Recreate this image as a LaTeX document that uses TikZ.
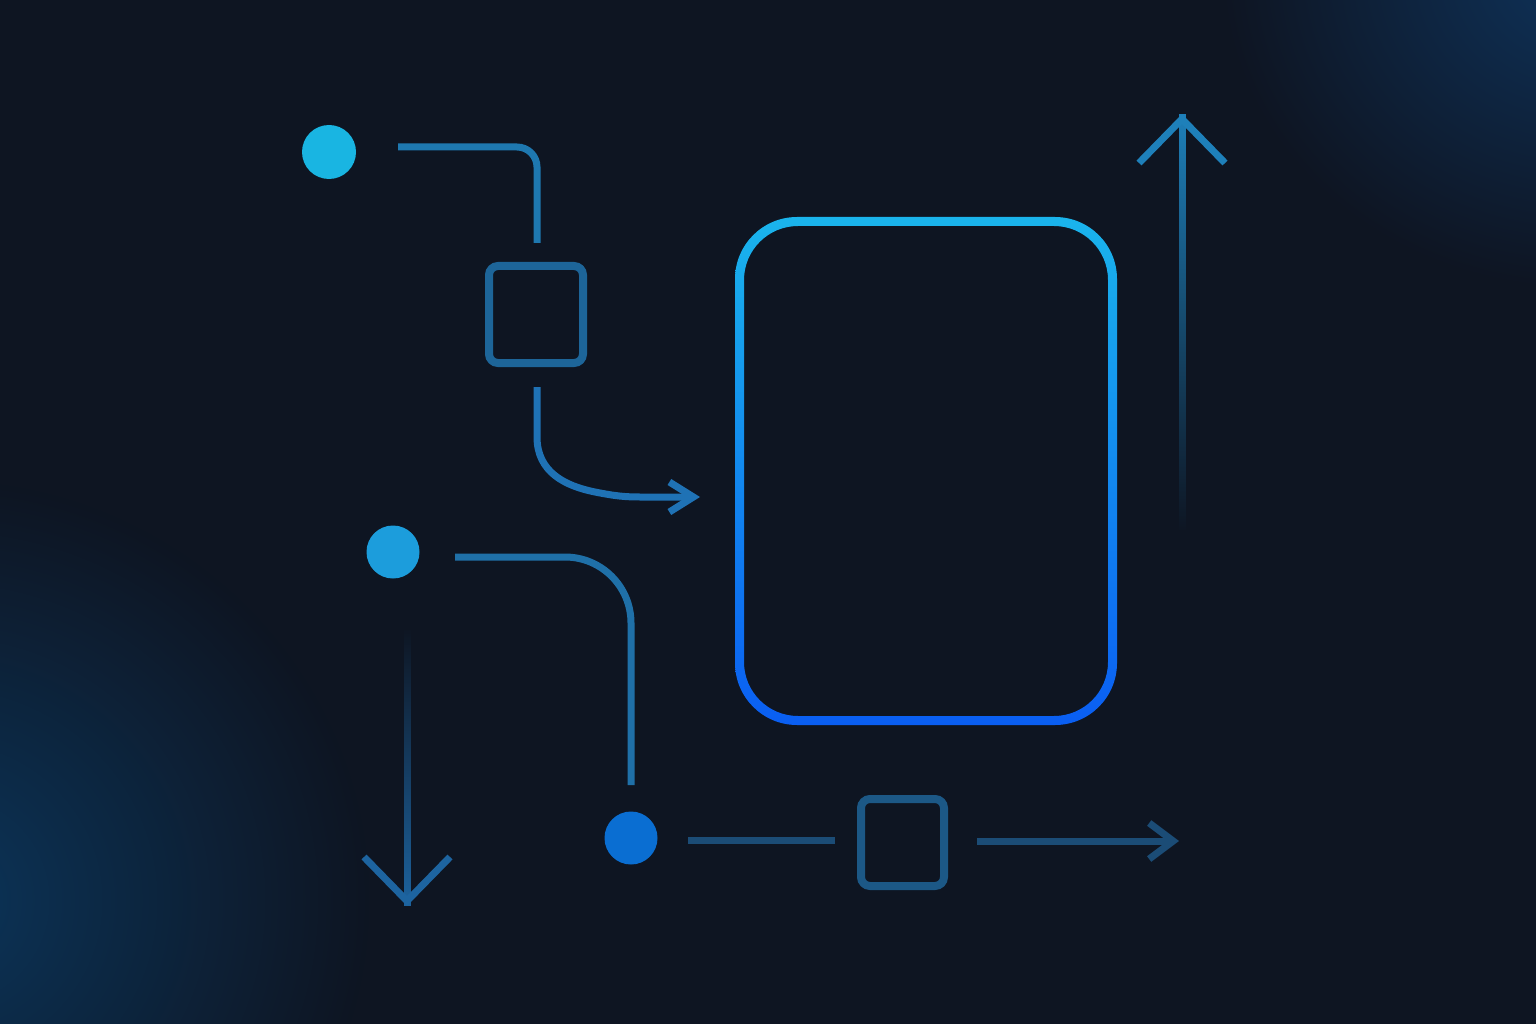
\documentclass[tikz,border=0pt]{standalone}
\usetikzlibrary{arrows.meta,fadings}
\definecolor{bg}{HTML}{0E1522}
\definecolor{glowA}{HTML}{0B3D68}
\definecolor{glowB}{HTML}{0F3A68}
\definecolor{cdotA}{HTML}{19B5E2}
\definecolor{cdotB}{HTML}{1C9DDC}
\definecolor{cdotC}{HTML}{0A6ED2}
\definecolor{clineA}{HTML}{1E78B0}
\definecolor{csqA}{HTML}{1D6599}
\definecolor{ccurve}{HTML}{1F72B5}
\definecolor{clineB}{HTML}{1F70A8}
\definecolor{cdown}{HTML}{1D64A0}
\definecolor{clineC}{HTML}{1B4C76}
\definecolor{csqC}{HTML}{1C5886}
\definecolor{cup}{HTML}{1E80BA}
\definecolor{boxtop}{HTML}{1AB4EC}
\definecolor{boxbot}{HTML}{0A5EF2}
\tikzfading[name=glowfade, inner color=transparent!20, outer color=transparent!100]
\tikzfading[name=tailup, top color=transparent!0, middle color=transparent!20, bottom color=transparent!100]
\tikzfading[name=taildown, top color=transparent!100, middle color=transparent!20, bottom color=transparent!0]
\tikzset{
  dot/.style={circle, inner sep=0pt, draw=none},
  sqbox/.style={rectangle, rounded corners=9pt, line width=8pt, inner sep=0pt},
  conn/.style={line width=7pt},
  bigbarb/.style={-{Straight Barb[length=44pt, width=86pt]}},
}
\begin{document}
\begin{tikzpicture}[x=1pt,y=-1pt]
\useasboundingbox (0,0) rectangle (1536,1024);
\clip (0,0) rectangle (1536,1024);
\fill[bg] (0,0) rectangle (1536,1024);
% corner glows
\fill[glowA, path fading=glowfade] (-60,900) ellipse (430 and 420);
\fill[glowB, path fading=glowfade] (1580,-30) ellipse (360 and 320);
% big box
\node[rectangle, minimum width=376pt, minimum height=500pt, inner sep=0pt] (box) at (926,471) {};
\shade[top color=boxtop, bottom color=boxbot, even odd rule, rounded corners=62pt]
  (735,217) rectangle (1117,725)
  [rounded corners=54pt] (744,226) rectangle (1108,716);
% dots
\node[dot, fill=cdotA, minimum size=54pt] (d1) at (329,152) {};
\node[dot, fill=cdotB, minimum size=53pt] (d2) at (393,552) {};
\node[dot, fill=cdotC, minimum size=53pt] (d3) at (631,838) {};
% squares
\node[sqbox, draw=csqA, minimum width=94pt, minimum height=97pt] (s1) at (536,314.5) {};
\node[sqbox, draw=csqC, minimum width=83pt, minimum height=87pt] (s3) at (902.5,842.5) {};
% free ends
\coordinate (l1a) at (398,147);
\coordinate (l1b) at (537,243);
\coordinate (c1a) at (537,387);
\coordinate (c1b) at (700,497);
\coordinate (l2a) at (455,557);
\coordinate (l2b) at (631,785);
\coordinate (dna) at (407,630);
\coordinate (dnm) at (407,899);
\coordinate (dnb) at (407,906);
\coordinate (l3a) at (688,840);
\coordinate (l3b) at (835,840);
\coordinate (l4a) at (977,841);
\coordinate (l4b) at (1179,841);
\coordinate (upa) at (1182,530);
\coordinate (upm) at (1182,121);
\coordinate (upb) at (1182,114);
% connectors
\draw[conn, clineA, rounded corners=20pt] (l1a) -| (l1b);
\draw[conn, ccurve, -{Straight Barb[length=24pt, width=30pt]}]
  (c1a) -- ++(0,50) .. controls +(0,35) and +(-30,-6) .. ++(58,55)
  .. controls +(20,4) and +(-15,0) .. ++(45,5) -- (c1b);
\draw[conn, clineB, rounded corners=66pt] (l2a) -| (l2b);
\draw[conn, cdown, path fading=taildown] (dna) -- (dnb);
\draw[conn, cdown, bigbarb] (dnm) -- (dnb);
\draw[conn, clineC] (l3a) -- (l3b);
\draw[conn, clineC, -{Straight Barb[length=24pt, width=36pt]}] (l4a) -- (l4b);
\draw[conn, cup, path fading=tailup] (upa) -- (upb);
\draw[conn, cup, bigbarb] (upm) -- (upb);
\end{tikzpicture}
\end{document}
